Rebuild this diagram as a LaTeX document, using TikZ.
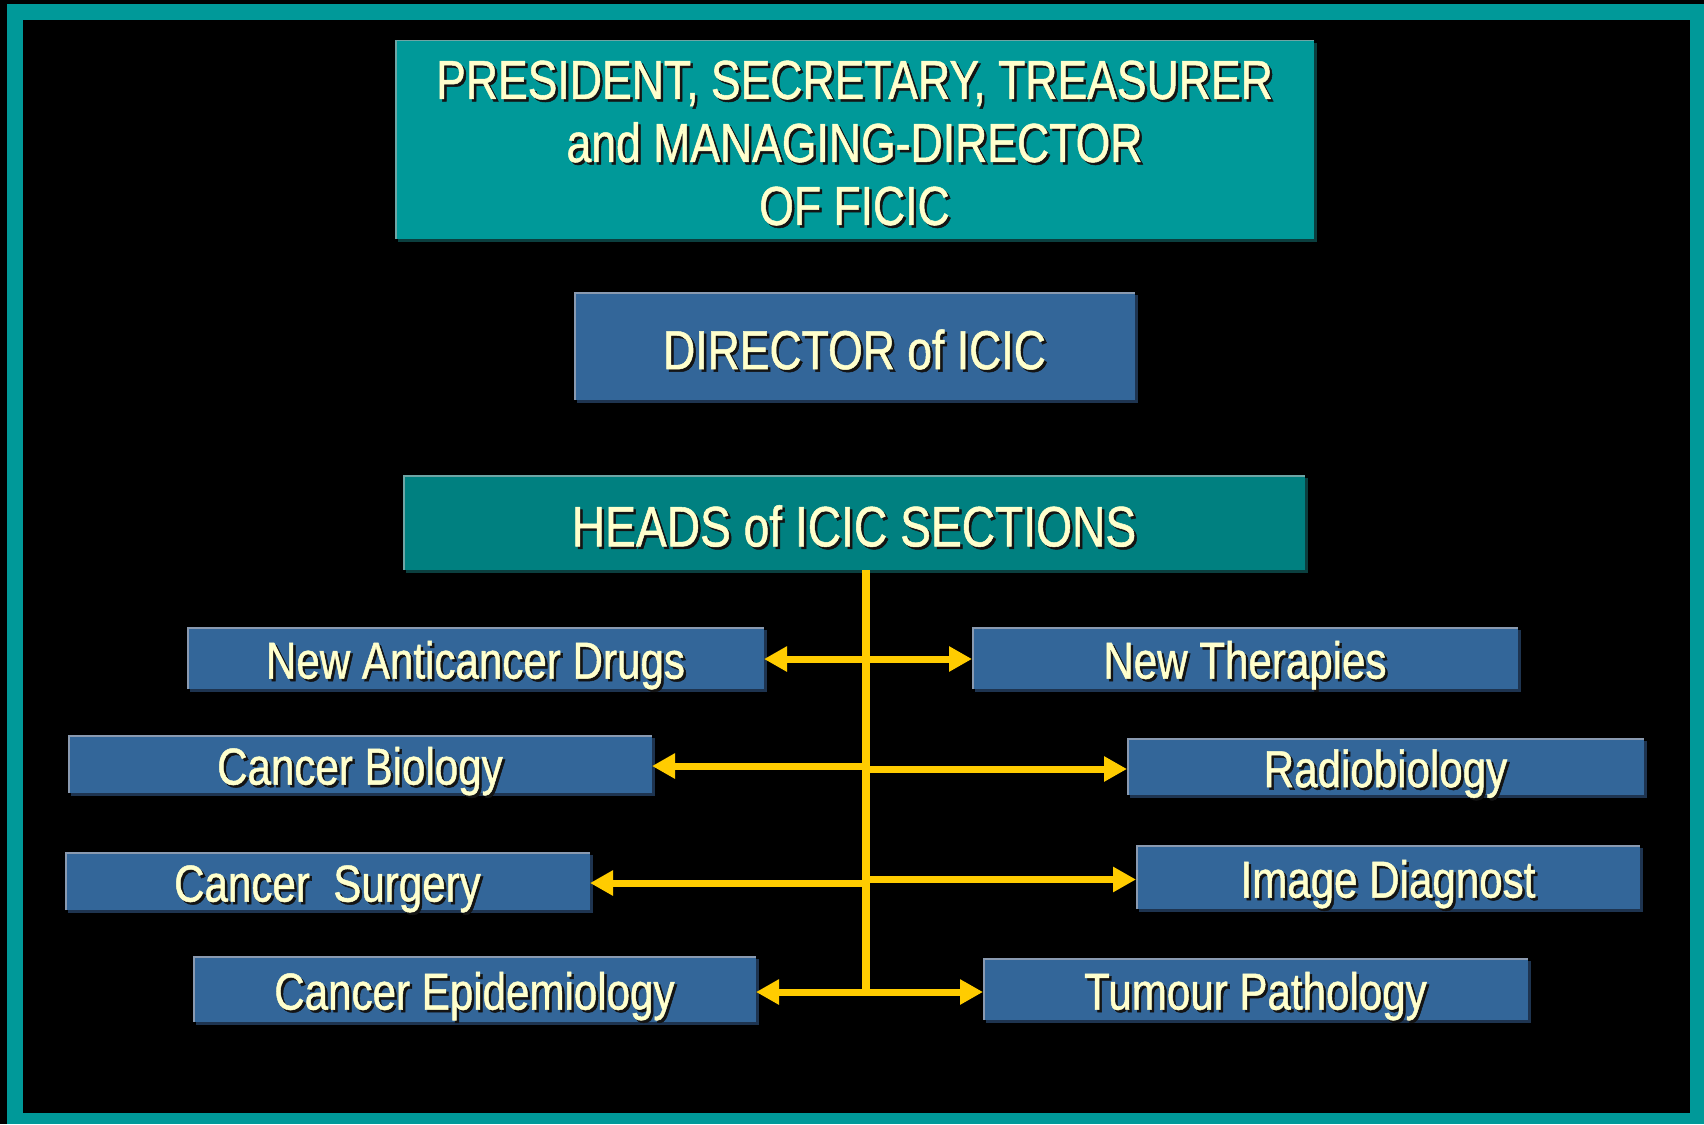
\documentclass[tikz,border=0pt]{standalone}
\usepackage{fontspec}
\setmainfont{Liberation Sans}[FakeStretch=0.81,FakeBold=0.9]
\usetikzlibrary{arrows.meta}
\definecolor{cframe}{HTML}{009999}
\definecolor{ctopteal}{HTML}{009999}
\definecolor{cheadteal}{HTML}{008080}
\definecolor{cblue}{HTML}{336699}
\definecolor{carrow}{HTML}{FFCC00}
\definecolor{ctxt}{HTML}{FFFFCC}
\definecolor{ctxtsh}{HTML}{141414}
\definecolor{cblueshadow}{HTML}{1E3450}
\definecolor{cblueedge}{HTML}{8A9AB0}
\definecolor{ctealshadow}{HTML}{0B3F3F}
\definecolor{ctealedge}{HTML}{6FA5A5}
\newcommand{\shtxt}[1]{\leavevmode\rlap{\kern2.5pt\raisebox{-2.5pt}{\color{ctxtsh}#1}}{\color{ctxt}#1}}
\tikzset{
  bigfont/.style={font=\fontsize{55}{63}\selectfont},
  smallfont/.style={font=\fontsize{52}{60}\selectfont},
  bigone/.style={bigfont, text height=46.4pt, text depth=0pt},
  headone/.style={font=\fontsize{57}{63}\selectfont, text height=47.8pt, text depth=0pt},
  smallone/.style={smallfont, text height=41.2pt, text depth=0pt},
  basebox/.style={rectangle, inner sep=0pt, outer sep=0pt, draw=none, align=center},
  bluebox/.style={basebox, fill=cblue},
  blueshadow/.style={fill=cblueshadow},
  blueedge/.style={draw=cblueedge, line width=1.5pt},
  tealbox/.style={basebox, fill=ctopteal},
  tealshadow/.style={fill=ctealshadow},
  tealedge/.style={draw=ctealedge, line width=1.5pt},
  headbox/.style={basebox, fill=cheadteal},
  headshadow/.style={fill=ctealshadow},
  headedge/.style={draw=ctealedge, line width=1.5pt},
  arr/.style={draw=carrow, line width=7pt, -{Triangle[length=23pt,width=24pt]}},
  stem/.style={draw=carrow, line width=8.5pt},
}
% #1 name, #2 kind, #3 text style, #4 x1, #5 y1, #6 x2, #7 y2, #8 text
\newcommand{\mkbox}[8]{%
  \fill[#2shadow] ({#4+3},{#5+3}) rectangle ({#6+3},{#7+3});
  \node[#2box, #3, minimum width={#6-#4}, minimum height={#7-#5}] (#1) at ({(#4+#6)/2},{(#5+#7)/2}) {#8};
  \draw[#2edge] ({#4+0.75},#7) -- ({#4+0.75},{#5+0.75}) -- (#6,{#5+0.75});
}
\begin{document}
\begin{tikzpicture}[x=1pt, y=-1pt]
\useasboundingbox (0,0) rectangle (1704,1124);
\fill[black] (0,0) rectangle (1704,1124);
\fill[cframe] (7,4) rectangle (1704,1124);
\fill[black] (23,20) rectangle (1690,1113);

\mkbox{top}{teal}{bigfont}{395}{40}{1314}{239}{\rule{0pt}{48pt}\shtxt{PRESIDENT, SECRETARY, TREASURER}\\\shtxt{and MANAGING-DIRECTOR}\\\shtxt{OF FICIC}}
\mkbox{dir}{blue}{bigone}{574}{292}{1135}{400}{\shtxt{DIRECTOR of ICIC}}
\mkbox{heads}{head}{headone}{403}{475}{1305}{570}{\shtxt{HEADS of ICIC SECTIONS}}

\mkbox{nad}{blue}{smallone}{187}{627}{764}{689}{\shtxt{New Anticancer Drugs}}
\mkbox{nt}{blue}{smallone}{972}{627}{1518}{689}{\shtxt{New Therapies}}
\mkbox{cb}{blue}{smallone}{68}{735}{652}{793}{\shtxt{Cancer Biology}}
\mkbox{rb}{blue}{smallone}{1127}{738}{1644}{795}{\shtxt{Radiobiology}}
\mkbox{cs}{blue}{smallone}{65}{852}{590}{910}{\shtxt{Cancer\ \ Surgery}}
\mkbox{id}{blue}{smallone}{1136}{845}{1640}{909}{\shtxt{Image Diagnost}}
\mkbox{ce}{blue}{smallone}{193}{956}{756}{1022}{\shtxt{Cancer Epidemiology}}
\mkbox{tp}{blue}{smallone}{983}{958}{1528}{1020}{\shtxt{Tumour Pathology}}

\coordinate (r1) at (866,659);
\coordinate (r2l) at (866,766);
\coordinate (r2r) at (866,769);
\coordinate (r3l) at (866,883);
\coordinate (r3r) at (866,879.5);
\coordinate (r4) at (866,992);
\coordinate (stemend) at (866,996);

\draw[arr] (r1) -- (nad.east |- r1);
\draw[arr] (r1) -- (nt.west |- r1);
\draw[arr] (r2l) -- (cb.east |- r2l);
\draw[arr] (r2r) -- (rb.west |- r2r);
\draw[arr] (r3l) -- (cs.east |- r3l);
\draw[arr] (r3r) -- (id.west |- r3r);
\draw[arr] (r4) -- (ce.east |- r4);
\draw[arr] (r4) -- (tp.west |- r4);
\draw[stem] (stemend |- heads.south) -- (stemend);
\end{tikzpicture}
\end{document}
